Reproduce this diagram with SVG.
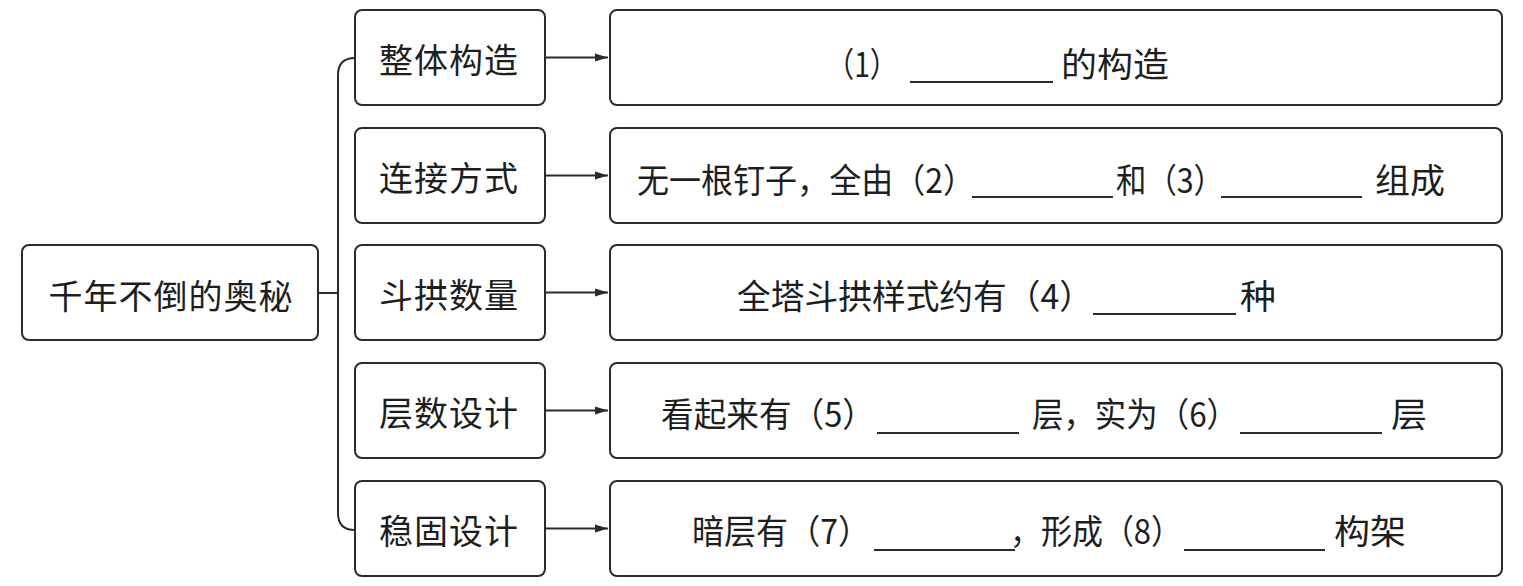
<svg xmlns="http://www.w3.org/2000/svg" width="1523" height="586" viewBox="0 0 1523 586">
<style>
.box{fill:#fff;stroke:#2b2b2b;stroke-width:2}
.t{font-family:"Noto Sans CJK SC","Noto Sans",sans-serif;font-size:34px;fill:#1e1e1e;dominant-baseline:central}
.m{text-anchor:middle;letter-spacing:1px}
.blank{stroke:#2b2b2b;stroke-width:2}
.conn{fill:none;stroke:#2b2b2b;stroke-width:2}
</style>
<defs>
<marker id="arr" markerWidth="14" markerHeight="10" refX="13" refY="5" orient="auto" markerUnits="userSpaceOnUse">
<path d="M0,1 L13,5 L0,9 Z" fill="#2b2b2b"/>
</marker>
</defs>
<g id="connectors">
<path class="conn" d="M318,293 L338,293"/>
<path class="conn" d="M355,58 Q338,58 338,75 L338,513 Q338,530 355,530"/>
<path class="conn" d="M545,57.5 L608,57.5" marker-end="url(#arr)"/>
<path class="conn" d="M545,175.5 L608,175.5" marker-end="url(#arr)"/>
<path class="conn" d="M545,292.5 L608,292.5" marker-end="url(#arr)"/>
<path class="conn" d="M545,410.5 L608,410.5" marker-end="url(#arr)"/>
<path class="conn" d="M545,528.5 L608,528.5" marker-end="url(#arr)"/>
</g>
<g id="root">
<rect class="box" x="22" y="245" width="296" height="95" rx="7"/>
<text class="t m" x="171" y="294" letter-spacing="1.5">千年不倒的奥秘</text>
</g>
<g id="n1">
<rect class="box" x="355" y="10" width="190" height="95" rx="7"/>
<text class="t m" x="449" y="58">整体构造</text>
</g>
<g id="n2">
<rect class="box" x="355" y="128" width="190" height="95" rx="7"/>
<text class="t m" x="449" y="176">连接方式</text>
</g>
<g id="n3">
<rect class="box" x="355" y="245" width="190" height="95" rx="7"/>
<text class="t m" x="449" y="293">斗拱数量</text>
</g>
<g id="n4">
<rect class="box" x="355" y="363" width="190" height="95" rx="7"/>
<text class="t m" x="449" y="411">层数设计</text>
</g>
<g id="n5">
<rect class="box" x="355" y="481" width="190" height="95" rx="7"/>
<text class="t m" x="449" y="529">稳固设计</text>
</g>
<g id="r1">
<rect class="box" x="610" y="10" width="892" height="95" rx="7"/>
<text class="t" x="826" y="62" textLength="72" lengthAdjust="spacingAndGlyphs">（1）</text>
<line class="blank" x1="910" y1="82" x2="1053" y2="82"/>
<text class="t" x="1061" y="62" textLength="108" lengthAdjust="spacingAndGlyphs">的构造</text>
</g>
<g id="r2">
<rect class="box" x="610" y="128" width="892" height="95" rx="7"/>
<text class="t" x="637" y="178" textLength="338" lengthAdjust="spacingAndGlyphs">无一根钉子，全由（2）</text>
<line class="blank" x1="972" y1="197" x2="1113" y2="197"/>
<text class="t" x="1116" y="178" textLength="108" lengthAdjust="spacingAndGlyphs">和（3）</text>
<line class="blank" x1="1221" y1="197" x2="1362" y2="197"/>
<text class="t" x="1375" y="178" textLength="70" lengthAdjust="spacingAndGlyphs">组成</text>
</g>
<g id="r3">
<rect class="box" x="610" y="245" width="892" height="95" rx="7"/>
<text class="t" x="737" y="294" textLength="356" lengthAdjust="spacingAndGlyphs">全塔斗拱样式约有（4）</text>
<line class="blank" x1="1093" y1="314" x2="1236" y2="314"/>
<text class="t" x="1240" y="294" textLength="36" lengthAdjust="spacingAndGlyphs">种</text>
</g>
<g id="r4">
<rect class="box" x="610" y="363" width="892" height="95" rx="7"/>
<text class="t" x="661" y="412" textLength="214" lengthAdjust="spacingAndGlyphs">看起来有（5）</text>
<line class="blank" x1="877" y1="433" x2="1019" y2="433"/>
<text class="t" x="1032" y="412" textLength="206" lengthAdjust="spacingAndGlyphs">层，实为（6）</text>
<line class="blank" x1="1240" y1="433" x2="1382" y2="433"/>
<text class="t" x="1391" y="412" textLength="36" lengthAdjust="spacingAndGlyphs">层</text>
</g>
<g id="r5">
<rect class="box" x="610" y="481" width="892" height="95" rx="7"/>
<text class="t" x="692" y="529" textLength="178" lengthAdjust="spacingAndGlyphs">暗层有（7）</text>
<line class="blank" x1="874" y1="550" x2="1015" y2="550"/>
<text class="t" x="1010" y="529" textLength="172" lengthAdjust="spacingAndGlyphs">，形成（8）</text>
<line class="blank" x1="1184" y1="550" x2="1325" y2="550"/>
<text class="t" x="1334" y="529" textLength="72" lengthAdjust="spacingAndGlyphs">构架</text>
</g>
</svg>
